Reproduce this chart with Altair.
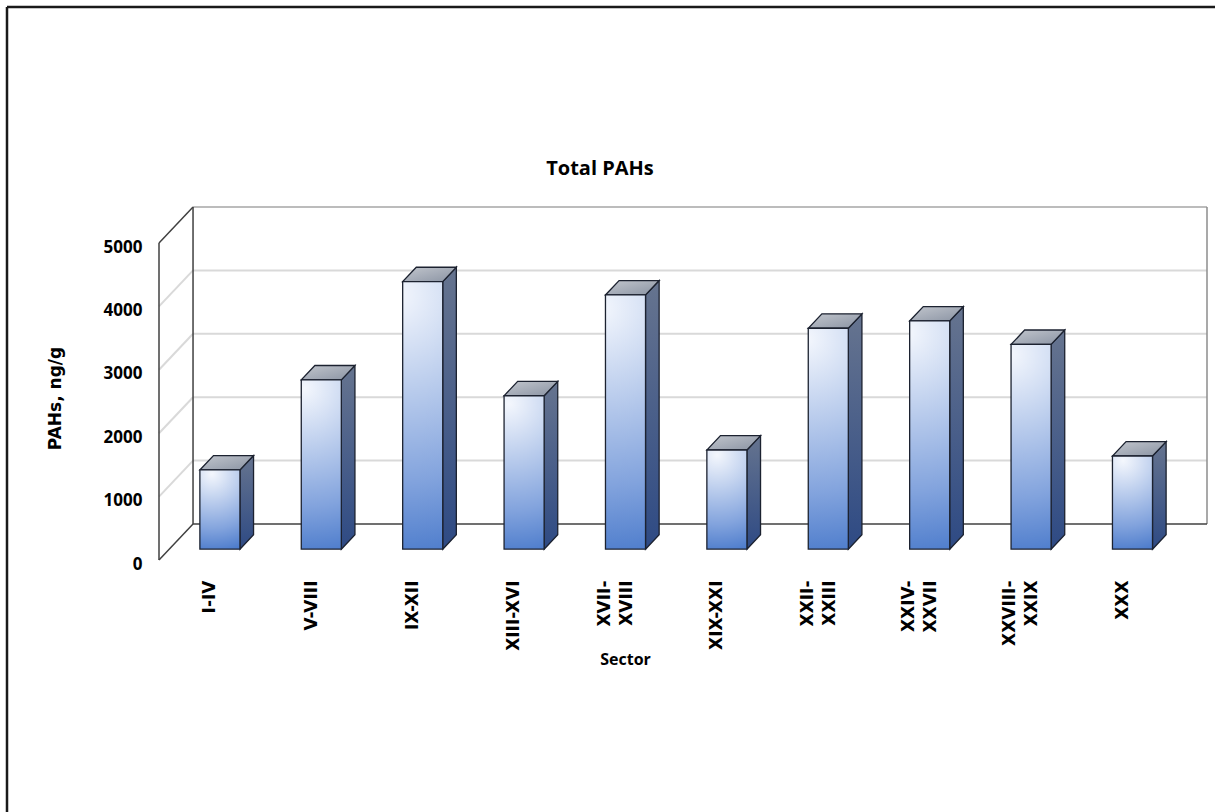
import json
import altair as alt
import pandas as pd

# ---------------- data ----------------
sectors = ["I-IV", "V-VIII", "IX-XII", "XIII-XVI", "XVII-XVIII", "XIX-XXI",
           "XXII-XXIII", "XXIV-XXVII", "XXVIII-XXIX", "XXX"]
sector_labels = [["I-IV"], ["V-VIII"], ["IX-XII"], ["XIII-XVI"], ["XVII-", "XVIII"],
                 ["XIX-XXI"], ["XXII-", "XXIII"], ["XXIV-", "XXVII"], ["XXVIII-", "XXIX"], ["XXX"]]
pahs = [1250, 2670, 4220, 2420, 4010, 1565, 3485, 3600, 3230, 1470]
y_ticks = [0, 1000, 2000, 3000, 4000, 5000]
chart_title = "Total PAHs"

# ---------------- 3-D projection settings ----------------
W, H = 1048, 353
n = len(sectors)
DX = 0.3356          # depth shift in category units
DY = 568.0           # depth shift in value units
BAR_W = 0.395        # bar width in category units
D0, D1 = 0.3, 0.7    # bar front / back depth
ymax = max(y_ticks)
x_lo, x_hi = -0.5, n - 0.5

xs = alt.Scale(domain=[x_lo, x_hi + DX], nice=False, zero=False)
ys = alt.Scale(domain=[0, ymax + DY], nice=False, zero=False)

# wall / grid segments
segs = []
for k in y_ticks[1:-1]:
    segs.append(dict(x=x_lo, x2=x_lo + DX, y=k, y2=k + DY, col="#d9d9d9", w=2))
    segs.append(dict(x=x_lo + DX, x2=x_hi + DX, y=k + DY, y2=k + DY, col="#d9d9d9", w=2))
segs += [
    dict(x=x_lo + DX, x2=x_hi + DX, y=ymax + DY, y2=ymax + DY, col="#a6a6a6", w=1.5),
    dict(x=x_hi + DX, x2=x_hi + DX, y=DY, y2=ymax + DY, col="#8c8c8c", w=1.5),
    dict(x=x_lo + DX, x2=x_hi + DX, y=DY, y2=DY, col="#404040", w=1.5),
    dict(x=x_lo + DX, x2=x_lo + DX, y=DY, y2=ymax + DY, col="#404040", w=1.5),
    dict(x=x_lo, x2=x_lo, y=0, y2=ymax, col="#404040", w=1.5),
    dict(x=x_lo, x2=x_lo + DX, y=0, y2=DY, col="#404040", w=1.5),
    dict(x=x_lo, x2=x_lo + DX, y=ymax, y2=ymax + DY, col="#404040", w=1.5),
]
seg_df = pd.DataFrame(segs)

dd = (D1 - D0) * DX
front_rows, side_rows, top_rows = [], [], []
for i, v in enumerate(pahs):
    xl = i + D0 * DX - BAR_W / 2
    xr = xl + BAR_W
    b0, b1 = D0 * DY, D1 * DY
    front_rows.append(dict(bar=i, x=xl, x2=xr, y=b0, y2=v + b0))
    side_rows += [dict(bar=i, x=xr, lo=b0, hi=v + b0),
                  dict(bar=i, x=xr + dd, lo=b1, hi=v + b1)]
    top_rows += [dict(bar=i, x=xl, lo=v + b0, hi=v + b0),
                 dict(bar=i, x=xl + dd, lo=v + b0, hi=v + b1),
                 dict(bar=i, x=xr, lo=v + b0, hi=v + b1),
                 dict(bar=i, x=xr + dd, lo=v + b1, hi=v + b1)]
front_df = pd.DataFrame(front_rows)
side_df = pd.DataFrame(side_rows)
top_df = pd.DataFrame(top_rows)

# ---------------- styles ----------------
front_grad = alt.RadialGradient(
    gradient="radial", x1=0.4, y1=0.05, r1=0, x2=0.4, y2=0.05, r2=1.0,
    stops=[alt.GradientStop(color="#f4f7fd", offset=0),
           alt.GradientStop(color="#c3d3ef", offset=0.3),
           alt.GradientStop(color="#82a3dd", offset=0.7),
           alt.GradientStop(color="#4a7acb", offset=1)])
side_grad = alt.LinearGradient(
    gradient="linear", x1=0, y1=0, x2=0, y2=1,
    stops=[alt.GradientStop(color="#66748f", offset=0),
           alt.GradientStop(color="#2e4a84", offset=1)])
top_grad = alt.LinearGradient(
    gradient="linear", x1=0, y1=0, x2=1, y2=1,
    stops=[alt.GradientStop(color="#c2c6cd", offset=0),
           alt.GradientStop(color="#8a93a3", offset=1)])
EDGE = "#1c2230"

labels_js = json.dumps(sector_labels)
x_axis = alt.Axis(
    values=list(range(n)), labelExpr=f"{labels_js}[datum.value]",
    labelAngle=-90, labelAlign="right", labelBaseline="middle", labelPadding=20,
    labelOffset={"condition": {"test": f"length({labels_js}[datum.value]) > 1", "value": -11},
                 "value": 0},
    labelFont="DejaVu Sans", labelFontWeight="bold", labelFontSize=17, labelColor="#000000",
    labelLineHeight=22, labelOverlap=False, labelBound=False, labelFlush=False,
    ticks=False, domain=False, grid=False,
    title="Sector", titleFont="Open Sans", titleFontWeight="bold", titleFontSize=16,
    titleColor="#000000", titleX=466, titleY=99, titleAlign="center", titleBaseline="middle")
y_axis = alt.Axis(
    values=y_ticks, format="d", labelFont="Open Sans", labelFontWeight="bold", labelFontSize=17,
    labelColor="#000000", labelPadding=17, labelOffset=4, ticks=False, domain=False, grid=False,
    labelFlush=False, labelBound=False,
    title="PAHs, ng/g", titleFont="DejaVu Sans", titleFontWeight="bold", titleFontSize=17,
    titleColor="#000000", titleX=-104, titleY=191, titleAngle=-90,
    titleAlign="center", titleBaseline="middle")

walls = alt.Chart(seg_df).mark_rule().encode(
    x=alt.X("x:Q", scale=xs, axis=x_axis),
    x2="x2:Q",
    y=alt.Y("y:Q", scale=ys, axis=y_axis),
    y2="y2:Q",
    color=alt.Color("col:N", scale=None),
    strokeWidth=alt.StrokeWidth("w:Q", scale=None),
)

side = alt.Chart(side_df).mark_area(
    fill=side_grad, stroke=EDGE, strokeWidth=1.3, interpolate="linear").encode(
    x=alt.X("x:Q", scale=xs, axis=x_axis),
    y=alt.Y("lo:Q", scale=ys, axis=y_axis, stack=None),
    y2="hi:Q",
    detail="bar:N",
)
top = alt.Chart(top_df).mark_area(
    fill=top_grad, stroke=EDGE, strokeWidth=1.3, interpolate="linear").encode(
    x=alt.X("x:Q", scale=xs, axis=x_axis),
    y=alt.Y("lo:Q", scale=ys, axis=y_axis, stack=None),
    y2="hi:Q",
    detail="bar:N",
)
front = alt.Chart(front_df).mark_rect(
    fill=front_grad, stroke=EDGE, strokeWidth=1.3).encode(
    x=alt.X("x:Q", scale=xs, axis=x_axis),
    x2="x2:Q",
    y=alt.Y("y:Q", scale=ys, axis=y_axis),
    y2="y2:Q",
)

one = pd.DataFrame({"a": [0]})
border_top = alt.Chart(one).mark_rule(color="#1a1a1a", strokeWidth=2.5).encode(
    x=alt.value(-152), x2=alt.value(1056), y=alt.value(-200))
border_left = alt.Chart(one).mark_rule(color="#1a1a1a", strokeWidth=2.5).encode(
    x=alt.value(-152), y=alt.value(-200), y2=alt.value(605))
title_mark = alt.Chart(one).mark_text(
    text=chart_title, font="Open Sans", fontSize=20, fontWeight="bold", color="#000000",
    align="center", baseline="middle").encode(x=alt.value(441), y=alt.value(-38))

chart = alt.layer(walls, side, top, front, border_top, border_left, title_mark).properties(
    width=W, height=H,
    autosize=alt.AutoSizeParams(type="none"),
    padding={"left": 159, "top": 207, "right": 8, "bottom": 252},
    background="#ffffff",
).configure_view(stroke=None)

chart.save("out.html", embed_options={"renderer": "svg", "actions": False})
